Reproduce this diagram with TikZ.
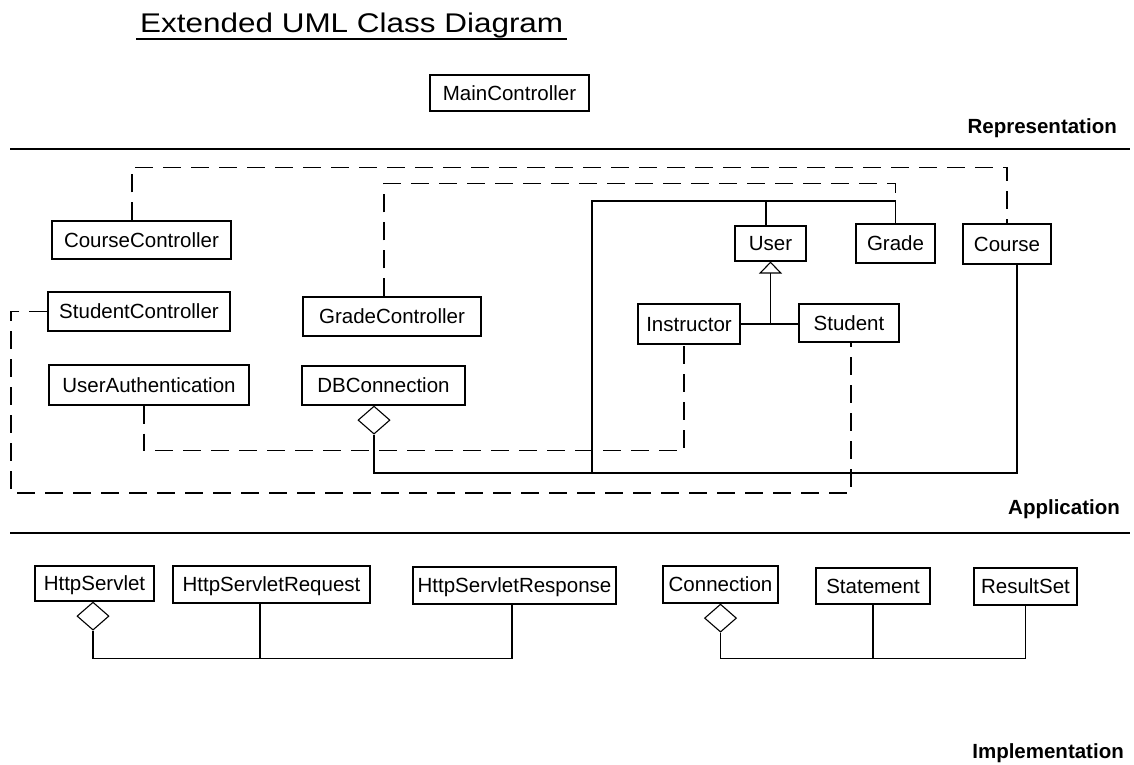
\documentclass[tikz,border=0pt]{standalone}
\usepackage{fontspec}
\setmainfont{Liberation Sans}
\usetikzlibrary{arrows.meta,shapes.geometric}

\tikzset{
  cls/.style={draw, line width=1.1pt, inner sep=0pt, text height=14.7pt, text depth=0pt,
              font=\fontsize{20.5}{24}\selectfont},
  aggr/.style={draw, shape=diamond, fill=white, line width=1.1pt, inner sep=0pt,
               minimum width=32pt, minimum height=28pt, anchor=north},
  assoc/.style={line width=1.1pt},
  dep/.style={line width=1.1pt, dash pattern=on 18pt off 10pt},
  gen/.style={line width=1.1pt, -{Triangle[open, width=23pt, length=12pt, line width=1.1pt]}},
  sep/.style={line width=2pt},
  layer/.style={font=\fontsize{20.5}{24}\selectfont\bfseries, anchor=base east, inner sep=0pt},
}

\begin{document}
\begin{tikzpicture}[x=1pt, y=-1pt]
\useasboundingbox (0,0) rectangle (1134,764);

% title
\node[anchor=base west, inner sep=0pt] (title) at (140,32)
  {\fontsize{27}{32}\selectfont\scalebox{1.165}[1]{Extended UML Class Diagram}};
\draw[line width=1.6pt] ([xshift=-4pt, yshift=-7pt]title.base west) -- ([xshift=4pt, yshift=-7pt]title.base east);

% layer separators and names
\draw[sep] (10,149) -- (1130,149);
\draw[sep] (10,533) -- (1130,533);
\node[layer] (repLabel) at (1117,133) {Representation};
\node[layer] (appLabel) at (1120,514) {Application};
\node[layer] (impLabel) at (1124,758) {Implementation};

% representation layer
\node[cls, minimum width=159pt, minimum height=36pt] (MainController) at (509.5,93) {MainController};

% application layer classes
\node[cls, minimum width=179pt, minimum height=38pt] (CourseController) at (141.5,240) {CourseController};
\node[cls, minimum width=182pt, minimum height=39pt] (StudentController) at (139,311.5) {StudentController};
\node[cls, minimum width=200pt, minimum height=40pt] (UserAuthentication) at (149,385) {UserAuthentication};
\node[cls, minimum width=178pt, minimum height=39pt] (GradeController) at (392,316.5) {GradeController};
\node[cls, minimum width=163pt, minimum height=39pt] (DBConnection) at (383.5,385.5) {DBConnection};
\node[cls, minimum width=71pt, minimum height=35pt] (User) at (770.5,243.5) {User};
\node[cls, minimum width=79pt, minimum height=39pt] (Grade) at (895.5,243.5) {Grade};
\node[cls, minimum width=88pt, minimum height=40pt] (Course) at (1007,244) {Course};
\node[cls, minimum width=102pt, minimum height=40pt] (Instructor) at (689,324) {Instructor};
\node[cls, minimum width=100pt, minimum height=38pt] (Student) at (849,323) {Student};

% controller dependencies
\draw[dep] ([xshift=-9.5pt]CourseController.north) -- ++(0,-53) -| (Course.north);
\draw[dep] ([xshift=-8pt]GradeController.north) -- ++(0,-113) -| (Grade.north);
\draw[dep] ([xshift=-5pt]UserAuthentication.south) -- ++(0,45) -| ([xshift=-5pt]Instructor.south);
\draw[dep] (StudentController.west) -| (11,493) -| ([xshift=2pt]Student.south);

% inheritance
\draw[assoc] (Instructor.east) -- (Instructor.east -| Student.west);
\draw[gen] (Instructor.east -| User.south) -- (User.south);

% associations
\coordinate (hub) at (592,201);
\coordinate (courseFoot) at ([xshift=10pt]Course.south);
\draw[assoc] (Grade.north) |- (hub) -- (hub |- 0,473);
\draw[assoc] ([xshift=-4.5pt]User.north) -- ([xshift=-4.5pt]User.north |- hub);
\node[aggr] (dbDia) at ([xshift=-9.5pt]DBConnection.south) {};
\draw[assoc] (dbDia.south) |- (courseFoot |- 0,473) -- (courseFoot);

% implementation layer classes
\node[cls, minimum width=119pt, minimum height=35pt] (HttpServlet) at (94.5,583.5) {HttpServlet};
\node[cls, minimum width=197pt, minimum height=37pt] (HttpServletRequest) at (271.5,584.5) {HttpServletRequest};
\node[cls, minimum width=203pt, minimum height=37pt] (HttpServletResponse) at (514.5,585.5) {HttpServletResponse};
\node[cls, minimum width=115pt, minimum height=37pt] (Connection) at (720.5,584.5) {Connection};
\node[cls, minimum width=114pt, minimum height=36pt] (Statement) at (873,586) {Statement};
\node[cls, minimum width=103pt, minimum height=37pt] (ResultSet) at (1025.5,586.5) {ResultSet};

\node[aggr] (hsDia) at ([xshift=-1.5pt]HttpServlet.south) {};
\draw[assoc] (hsDia.south) -- ++(0,28) -| ([xshift=-2.5pt]HttpServletResponse.south);
\draw[assoc] ([xshift=-11.5pt]HttpServletRequest.south) -- ++(0,54);

\node[aggr] (cnDia) at (Connection.south) {};
\draw[assoc] (cnDia.south) -- ++(0,26) -| (ResultSet.south);
\draw[assoc] (Statement.south) -- ++(0,53);
\end{tikzpicture}
\end{document}
